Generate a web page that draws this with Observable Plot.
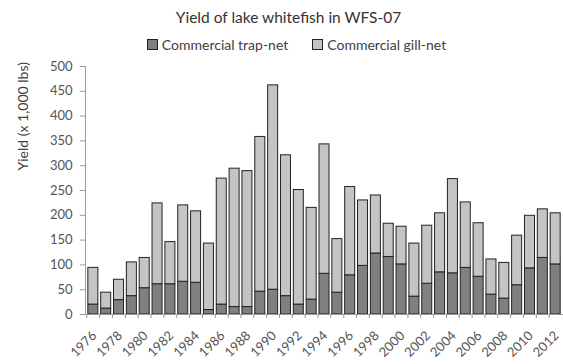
<!DOCTYPE html>
<html>
<head>
<meta charset="utf-8">
<script src="https://cdn.jsdelivr.net/npm/d3@7"></script>
<script src="https://cdn.jsdelivr.net/npm/@observablehq/plot@0.6"></script>
<style>
  html, body { margin: 0; padding: 0; background: #fff; }
  body { width: 563px; height: 364px; overflow: hidden; font-family: Lato, "Open Sans", sans-serif; color: #404040; }
  #title { height: 32px; line-height: 35px; text-align: center; padding-left: 14px; font-size: 15.5px; color: #333; white-space: nowrap; }
  #legend { height: 23px; line-height: 25px; text-align: center; padding-left: 30px; font-size: 14px; color: #404040; white-space: nowrap; }
  #legend span.item { display: inline-block; margin: 0 12px; }
  #legend span.sw { display: inline-block; width: 9px; height: 9px; border: 1px solid #222; margin-right: 4px; vertical-align: -0px; }
  #chart svg { display: block; }
</style>
</head>
<body>
<div id="title"></div>
<div id="legend"></div>
<div id="chart"></div>
<script>
const titleText = "Yield of lake whitefish in WFS-07";
const yLabel = "Yield (x 1,000 lbs)";
const seriesNames = ["Commercial trap-net", "Commercial gill-net"];
const seriesColors = ["#808080", "#c4c4c4"];
const years = [1976,1977,1978,1979,1980,1981,1982,1983,1984,1985,1986,1987,1988,1989,1990,1991,1992,1993,1994,1995,1996,1997,1998,1999,2000,2001,2002,2003,2004,2005,2006,2007,2008,2009,2010,2011,2012];
const trapNet = [20,12,29,37,53,61,61,66,64,9,20,15,15,46,50,37,20,30,82,44,79,98,123,116,101,36,62,85,83,94,76,40,32,59,93,114,101];
const gillNet = [74,32,41,68,61,163,85,154,144,134,254,279,274,312,412,284,231,185,261,108,178,132,117,67,76,107,117,119,190,132,108,71,72,100,106,98,103];
const yTicks = [0,50,100,150,200,250,300,350,400,450,500];
const xLabelYears = years.filter((y, i) => i % 2 === 0);

document.getElementById("title").textContent = titleText;
const leg = document.getElementById("legend");
seriesNames.forEach((n, i) => {
  const it = document.createElement("span");
  it.className = "item";
  const sw = document.createElement("span");
  sw.className = "sw";
  sw.style.background = seriesColors[i];
  it.appendChild(sw);
  it.appendChild(document.createTextNode(n));
  leg.appendChild(it);
});

const rows = [];
years.forEach((y, i) => rows.push({year: y, series: seriesNames[0], value: trapNet[i]}));
years.forEach((y, i) => rows.push({year: y, series: seriesNames[1], value: gillNet[i]}));

const W = 563, MARGIN_L = 85, MARGIN_R = 0;
const step = (W - MARGIN_L - MARGIN_R) / years.length;

const chart = Plot.plot({
  width: W,
  height: 309,
  marginLeft: MARGIN_L,
  marginRight: MARGIN_R,
  marginTop: 11,
  marginBottom: 50,
  style: {fontFamily: "Lato, 'Open Sans', sans-serif", background: "#fff"},
  x: {type: "band", domain: years, padding: 0.22, label: null},
  y: {domain: [0, 500], label: null},
  color: {domain: seriesNames, range: seriesColors},
  marks: [
    Plot.barY(rows, {x: "year", y: "value", fill: "series", stroke: "#222", strokeWidth: 1, order: seriesNames}),
    Plot.ruleY([0], {stroke: "#9a9a9a"}),
    Plot.frame({anchor: "left", stroke: "#9a9a9a"}),
    Plot.axisY({ticks: yTicks, tickSize: 5, tickPadding: 8, fontSize: 13, color: "#555", stroke: "#9a9a9a", label: null}),
    Plot.axisX({ticks: years, tickSize: 4, text: null, dx: -step / 2, stroke: "#9a9a9a", label: null}),
    Plot.axisX({ticks: xLabelYears, tickFormat: d => String(d), tickSize: 0, tickRotate: -45, tickPadding: 19, dx: 1, fontSize: 13, fill: "#555", label: null}),
    Plot.text([yLabel], {frameAnchor: "left", rotate: -90, dx: -62, dy: -20, fontSize: 14, fill: "#404040"})
  ]
});
document.getElementById("chart").appendChild(chart);
</script>
</body>
</html>
